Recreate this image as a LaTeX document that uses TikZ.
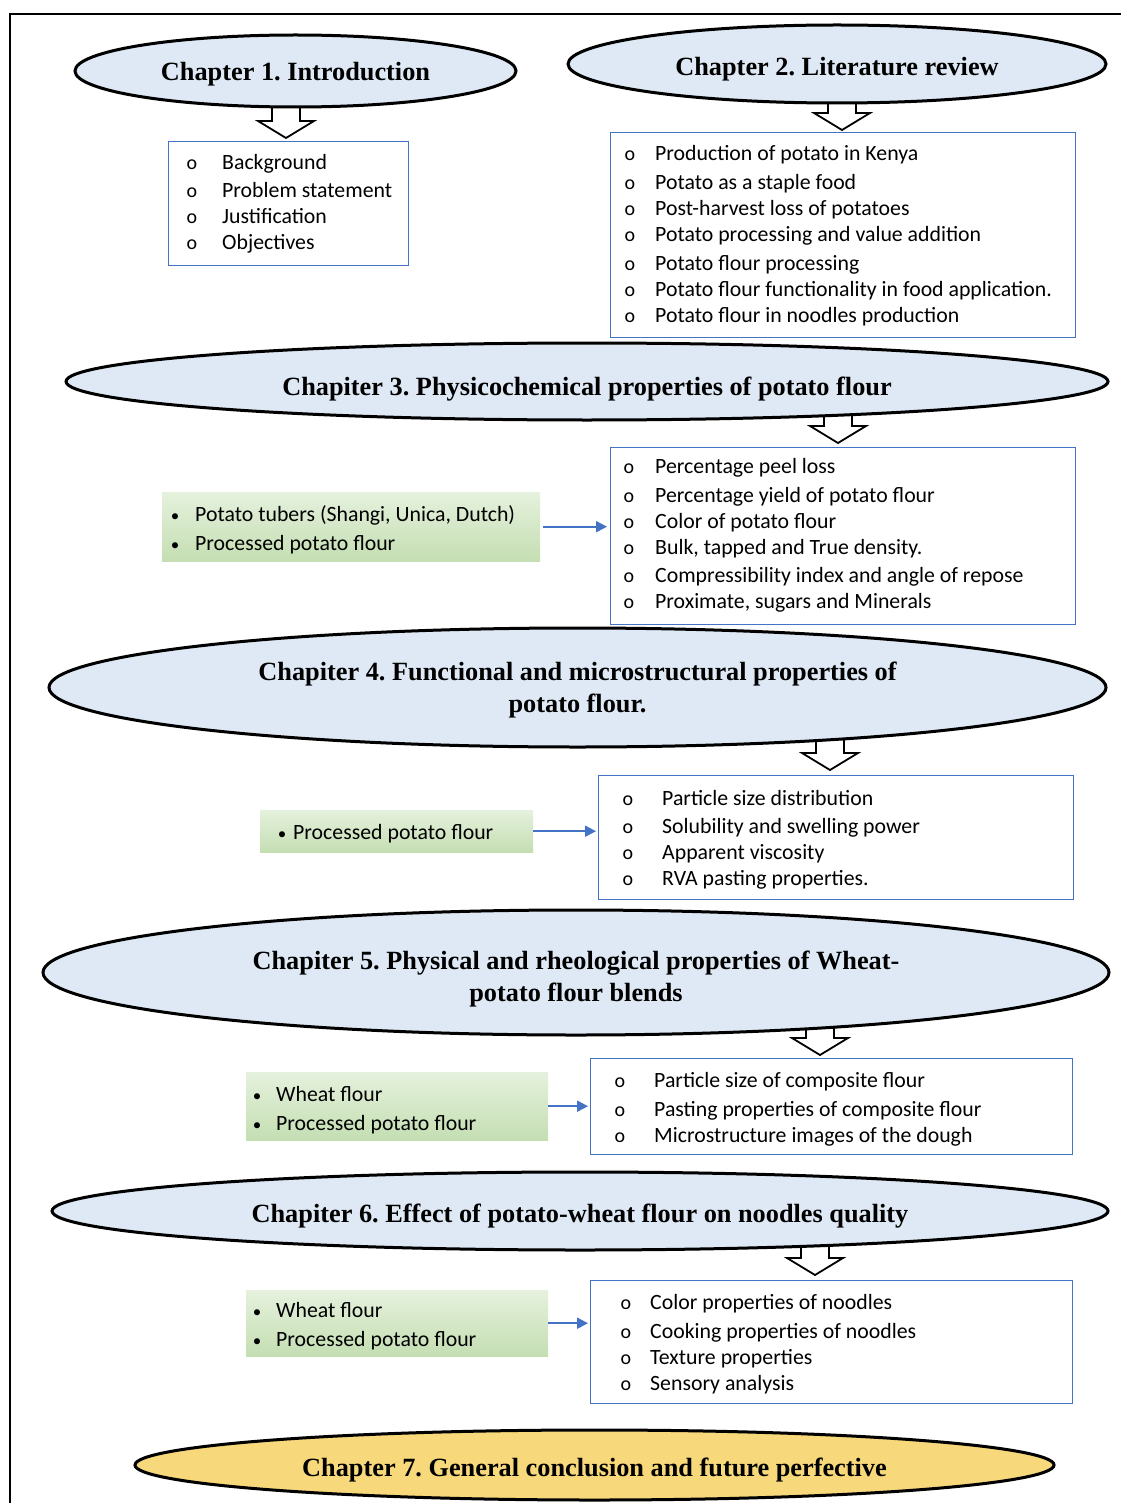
\documentclass[tikz,border=0pt]{standalone}
\usepackage{fontspec}
\setmainfont{Liberation Serif}
\newfontfamily\calfont{Carlito}
\usetikzlibrary{shapes.geometric,arrows.meta}
\frenchspacing
\definecolor{chapblue}{RGB}{222,233,245}
\definecolor{chapyellow}{RGB}{247,216,122}
\definecolor{boxblue}{RGB}{68,114,196}
\definecolor{greentop}{RGB}{229,241,221}
\definecolor{greenbot}{RGB}{196,222,178}
\newcommand{\hollowarr}[3]{%
  \draw[line width=1.8pt, fill=white, line join=miter]
   (#1-14,#2) -- (#1+14,#2) -- (#1+14,#3-17) -- (#1+28,#3-17) -- (#1,#3)
   -- (#1-28,#3-17) -- (#1-14,#3-17) -- cycle;}
% invisible strut that lowers a centred title by #1 pt
\newcommand{\lowerby}[1]{\rule{0pt}{\dimexpr 18pt+#1pt+#1pt\relax}}
\tikzset{
  chap/.style={ellipse, draw=black, line width=3pt, fill=chapblue, inner sep=0pt,
    align=center, font=\fontsize{26.3}{32}\selectfont\bfseries\frenchspacing},
  listbox/.style={draw=boxblue, line width=1.3pt, inner sep=0pt, anchor=north west, fill=white},
  greenbox/.style={rectangle, inner sep=0pt, anchor=north west, top color=greentop, bottom color=greenbot},
  bul/.style={font=\calfont\fontsize{20}{24}\selectfont, inner sep=0pt, anchor=base},
  dot/.style={font=\calfont\fontsize{17}{24}\selectfont, inner sep=0pt, anchor=base},
  itm/.style={font=\calfont\fontsize{21.8}{26}\selectfont, inner sep=0pt, anchor=base west},
  bluearr/.style={draw=boxblue, line width=2pt, -{Triangle[length=11pt,width=11pt]}}
}
\begin{document}
\begin{tikzpicture}[x=1pt,y=-1pt]
\useasboundingbox (0,0) rectangle (1121,1503);
\fill[white] (0,0) rectangle (1121,1503);
\draw[line width=2.5pt] (1121,14) -- (10,14) -- (10,1503);

% hollow arrows (drawn first, tops hidden under ellipses)
\hollowarr{286}{100}{138}
\hollowarr{842}{95}{130}
\hollowarr{838}{412}{443}
\hollowarr{830}{738}{770}
\hollowarr{820}{1025}{1055}
\hollowarr{815}{1243}{1275}

% chapter ellipses
\node[chap, minimum width=441pt, minimum height=72pt] (c1) at (295.5,71) {\lowerby{3}Chapter 1. Introduction};
\node[chap, minimum width=538pt, minimum height=78pt] (c2) at (837,64) {\lowerby{5}Chapter 2. Literature review};
\node[chap, minimum width=1042pt, minimum height=77pt] (c3) at (587,381.5) {\lowerby{8}Chapiter 3. Physicochemical properties of potato flour};
\node[chap, minimum width=1057pt, minimum height=119pt] (c4) at (577.5,687.5) {\lowerby{3}Chapiter 4. Functional and microstructural properties of\\potato flour.};
\node[chap, minimum width=1066pt, minimum height=125pt] (c5) at (576,972.5) {\lowerby{7}Chapiter 5. Physical and rheological properties of Wheat-\\potato flour blends};
\node[chap, minimum width=1056pt, minimum height=78pt] (c6) at (580,1211) {\lowerby{5}Chapiter 6. Effect of potato-wheat flour on noodles quality};
\node[chap, fill=chapyellow, minimum width=919pt, minimum height=70pt] (c7) at (594.5,1465) {\lowerby{5}Chapter 7. General conclusion and future perfective};

% Chapter 1 box
\node[listbox, minimum width=240pt, minimum height=124pt] (b1) at (168,141) {};
\foreach \y/\t [count=\i] in {162/Background,190/Problem statement,216/Justification,242/Objectives}{
  \node[bul] (b1o\i) at (192,\y+8) {o};
  \node[itm] (b1t\i) at (222,\y+8) {\t};
}

% Chapter 2 box
\node[listbox, minimum width=465pt, minimum height=205pt] (b2) at (610,132) {};
\foreach \y/\t [count=\i] in {153/Production of potato in Kenya,182/Potato as a staple food,208/Post-harvest loss of potatoes,234/Potato processing and value addition,263/Potato flour processing,289/Potato flour functionality in food application.,315/Potato flour in noodles production}{
  \node[bul] (b2o\i) at (630,\y+8) {o};
  \node[itm] (b2t\i) at (655,\y+8) {\t};
}

% Chapter 3 boxes
\node[listbox, minimum width=465pt, minimum height=177pt] (b3) at (610,447) {};
\foreach \y/\t [count=\i] in {465/Percentage peel loss,494/Percentage yield of potato flour,520/Color of potato flour,546/{Bulk, tapped and True density.},574/Compressibility index and angle of repose,600/{Proximate, sugars and Minerals}}{
  \node[bul] (b3o\i) at (629,\y+8) {o};
  \node[itm] (b3t\i) at (655,\y+8) {\t};
}
\node[greenbox, minimum width=378pt, minimum height=69pt] (g3) at (162,492) {};
\foreach \y/\t [count=\i] in {513/{Potato tubers (Shangi, Unica, Dutch)},542/Processed potato flour}{
  \node[dot] (g3o\i) at (175,\y+8) {•};
  \node[itm] (g3t\i) at (195,\y+8) {\t};
}
\draw[bluearr] ([xshift=3pt]g3.east) -- ([xshift=-3pt]g3.east -| b3.west);

% Chapter 4 boxes
\node[listbox, minimum width=475pt, minimum height=124pt] (b4) at (598,775) {};
\foreach \y/\t [count=\i] in {797/Particle size distribution,825/Solubility and swelling power,851/Apparent viscosity,877/RVA pasting properties.}{
  \node[bul] (b4o\i) at (628,\y+8) {o};
  \node[itm] (b4t\i) at (662,\y+8) {\t};
}
\node[greenbox, minimum width=273pt, minimum height=42pt] (g4) at (260,810) {};
\node[dot] (g4o) at (282,831+8) {•};
\node[itm] (g4t) at (293,831+8) {Processed potato flour};
\draw[bluearr] (g4.east) -- ([xshift=-2pt]g4.east -| b4.west);

% Chapter 5 boxes
\node[listbox, minimum width=482pt, minimum height=96pt] (b5) at (590,1058) {};
\foreach \y/\t [count=\i] in {1079/Particle size of composite flour,1108/Pasting properties of composite flour,1134/Microstructure images of the dough}{
  \node[bul] (b5o\i) at (620,\y+8) {o};
  \node[itm] (b5t\i) at (654,\y+8) {\t};
}
\node[greenbox, minimum width=302pt, minimum height=68pt] (g5) at (246,1072) {};
\foreach \y/\t [count=\i] in {1093/Wheat flour,1122/Processed potato flour}{
  \node[dot] (g5o\i) at (257,\y+8) {•};
  \node[itm] (g5t\i) at (276,\y+8) {\t};
}
\draw[bluearr] (g5.east) -- ([xshift=-2pt]g5.east -| b5.west);

% Chapter 6 boxes
\node[listbox, minimum width=482pt, minimum height=123pt] (b6) at (590,1280) {};
\foreach \y/\t [count=\i] in {1301/Color properties of noodles,1330/Cooking properties of noodles,1356/Texture properties,1382/Sensory analysis}{
  \node[bul] (b6o\i) at (626,\y+8) {o};
  \node[itm] (b6t\i) at (650,\y+8) {\t};
}
\node[greenbox, minimum width=302pt, minimum height=66pt] (g6) at (246,1290) {};
\foreach \y/\t [count=\i] in {1309/Wheat flour,1338/Processed potato flour}{
  \node[dot] (g6o\i) at (257,\y+8) {•};
  \node[itm] (g6t\i) at (276,\y+8) {\t};
}
\draw[bluearr] (g6.east) -- ([xshift=-2pt]g6.east -| b6.west);
\end{tikzpicture}
\end{document}
